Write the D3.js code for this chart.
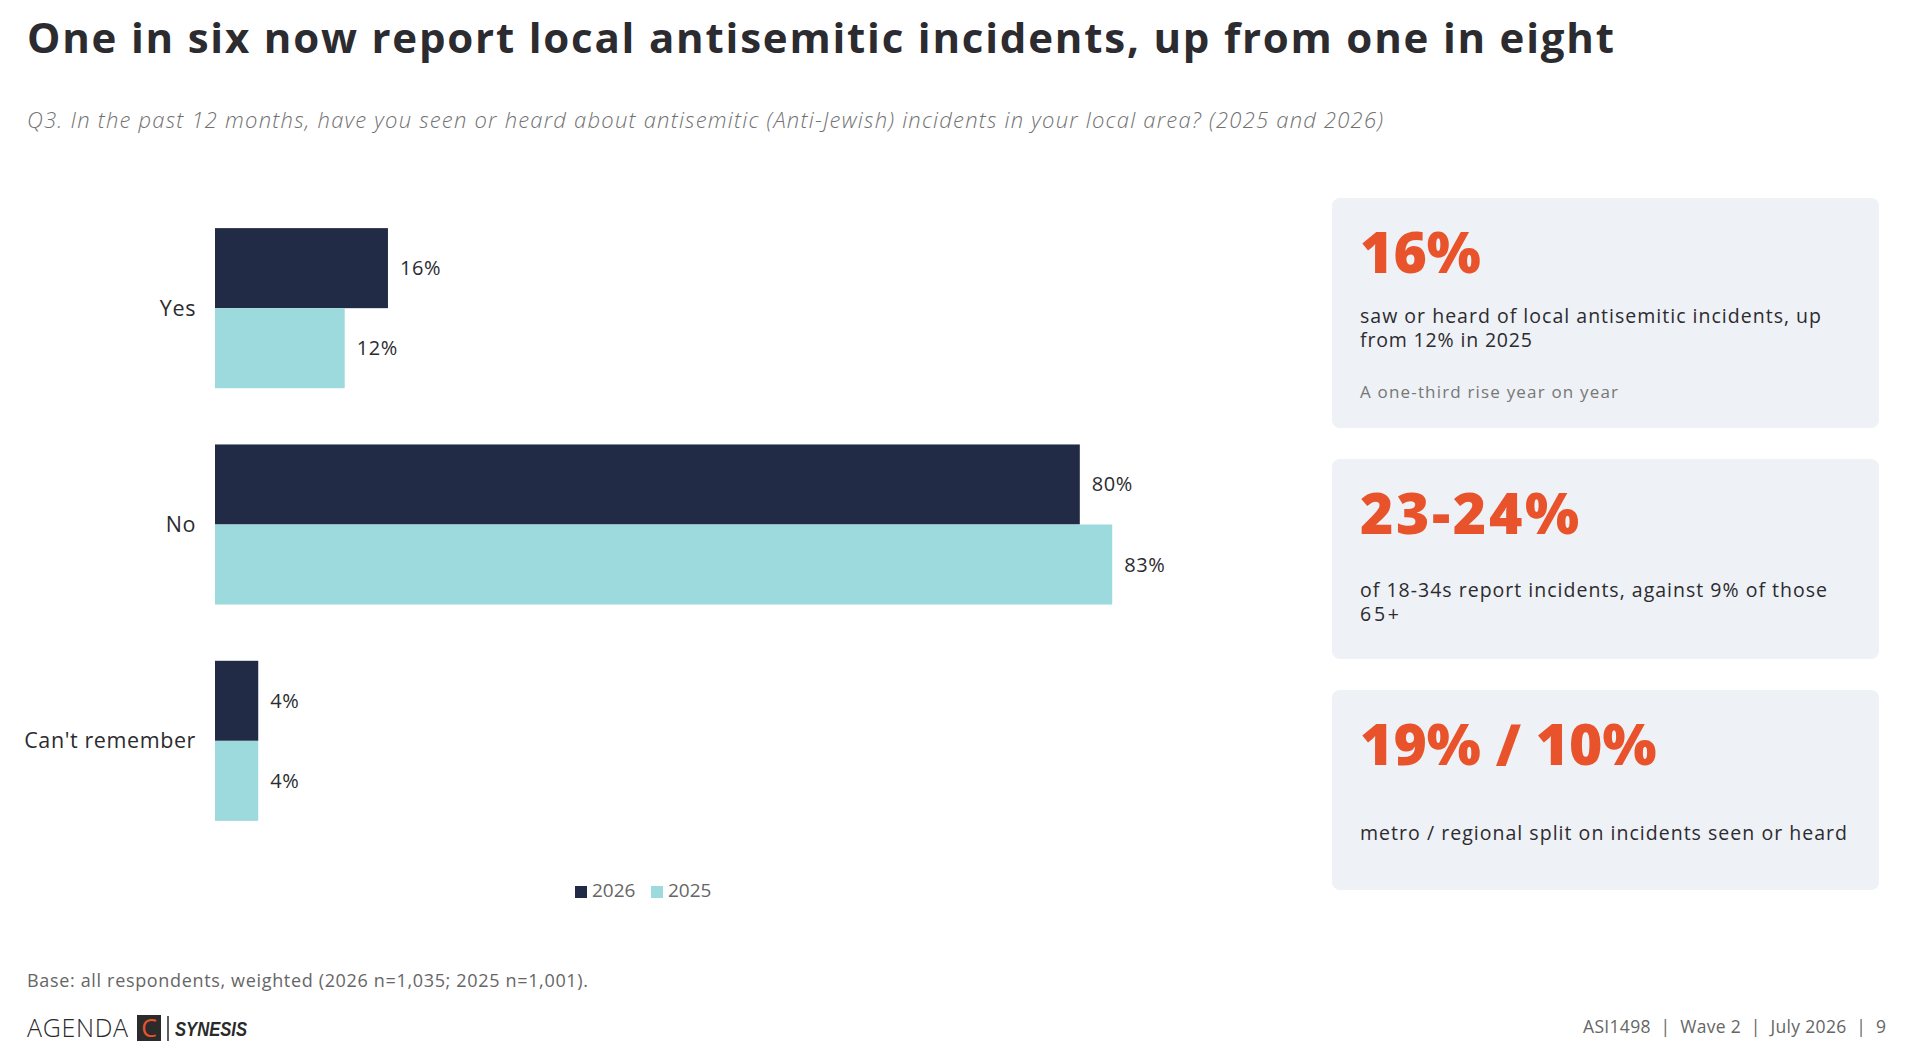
<!DOCTYPE html>
<html>
<head>
<meta charset="utf-8">
<script src="https://cdn.jsdelivr.net/npm/d3@7"></script>
<style>
  body { margin: 0; background: #fff; }
  svg text { font-family: "Open Sans", "Noto Sans", sans-serif; }
</style>
</head>
<body>
<div id="container"></div>
<script>
// Q3 local antisemitic incidents, 2026 vs 2025

const width = 1906;
const height = 1060;

const categories = ["Yes", "No", "Can't remember"];
const seriesNames = ["2026", "2025"];
const values2026 = [16, 80, 4];
const values2025 = [12, 83, 4];

const statHeadlines = ["16%", "23-24%", "19% / 10%"];
const statLines = [
    ["saw or heard of local antisemitic incidents, up", "from 12% in 2025"],
    ["of 18-34s report incidents, against 9% of those", "65+"],
    ["metro / regional split on incidents seen or heard"]
];
const statNotes = ["A one-third rise year on year", "", ""];

const titleText = "One in six now report local antisemitic incidents, up from one in eight";
const subtitleText = "Q3. In the past 12 months, have you seen or heard about antisemitic (Anti-Jewish) incidents in your local area? (2025 and 2026)";
const baseText = "Base: all respondents, weighted (2026 n=1,035; 2025 n=1,001).";
const footerText = "ASI1498  |  Wave 2  |  July 2026  |  9";

const navy = "#212b45";
const cyan = "#9ddadd";
const orange = "#e8532b";
const ink = "#2b2b30";

// the original face (Gotham) runs wider than Open Sans, so widen spacing to the same line lengths
// (only ever widen - squeezing makes glyphs collide)
function fit(sel, w) {
    const natural = sel.node().getComputedTextLength();
    if (natural < w) sel.attr("textLength", w).attr("lengthAdjust", "spacing");
    return sel;
}

const svg = d3.select("#container")
    .append("svg")
    .attr("width", width)
    .attr("height", height)
    .style("background-color", "white");

// header
fit(svg.append("text")
    .attr("x", 27)
    .attr("y", 53)
    .attr("fill", ink)
    .style("font-size", "42px")
    .style("font-weight", 700)
    .text(titleText), 1587);

fit(svg.append("text")
    .attr("x", 27)
    .attr("y", 128)
    .attr("fill", "#727272")
    .style("font-size", "22px")
    .style("font-style", "italic")
    .style("font-weight", 300)
    .text(subtitleText), 1356);

// bars
const x = d3.scaleLinear()
    .domain([0, 100])
    .range([215, 1296]);

const y = d3.scaleBand()
    .domain(categories)
    .range([200, 849])
    .paddingInner(0.26)
    .paddingOuter(0.13);

const ySub = d3.scaleBand()
    .domain(seriesNames)
    .range([0, y.bandwidth()]);

const color = d3.scaleOrdinal()
    .domain(seriesNames)
    .range([navy, cyan]);

const rows = categories.map((c, i) => ({
    category: c,
    values: [
        { series: "2026", value: values2026[i] },
        { series: "2025", value: values2025[i] }
    ]
}));

const groups = svg.append("g")
    .selectAll("g")
    .data(rows)
    .join("g")
    .attr("transform", d => `translate(0,${y(d.category)})`);

groups.selectAll("rect")
    .data(d => d.values)
    .join("rect")
    .attr("x", x(0))
    .attr("y", d => ySub(d.series))
    .attr("width", d => x(d.value) - x(0))
    .attr("height", ySub.bandwidth())
    .attr("fill", d => color(d.series));

groups.selectAll("text.val")
    .data(d => d.values)
    .join("text")
    .attr("class", "val")
    .attr("x", d => x(d.value) + 12)
    .attr("y", d => ySub(d.series) + ySub.bandwidth() / 2)
    .attr("dy", "0.35em")
    .attr("fill", ink)
    .style("font-size", "20px")
    .style("letter-spacing", "0.6px")
    .text(d => d.value + "%");

groups.append("text")
    .attr("x", 196)
    .attr("y", y.bandwidth() / 2)
    .attr("dy", "0.35em")
    .attr("text-anchor", "end")
    .attr("fill", ink)
    .style("font-size", "21.5px")
    .style("letter-spacing", "0.6px")
    .text(d => d.category);

// legend
const legend = svg.append("g")
    .attr("transform", "translate(575, 886)");

seriesNames.forEach((s, i) => {
    const g = legend.append("g")
        .attr("transform", `translate(${i * 76}, 0)`);
    g.append("rect")
        .attr("width", 12)
        .attr("height", 12)
        .attr("fill", color(s));
    g.append("text")
        .attr("x", 17)
        .attr("y", 11)
        .attr("fill", "#666")
        .style("font-size", "19px")
        .text(s);
});

// stat panels on the right
const panelTop = [198, 459, 690];
const panelHeight = [230, 200, 200];
const bodyOffset = [125, 138, 150];
const headWidth = [111, 219, 292];
const lineWidth = [[461, 172], [467, 39], [487]];

statHeadlines.forEach((h, i) => {
    const p = svg.append("g")
        .attr("transform", `translate(1332, ${panelTop[i]})`);
    p.append("rect")
        .attr("width", 547)
        .attr("height", panelHeight[i])
        .attr("rx", 8)
        .attr("fill", "#eef1f5");
    fit(p.append("text")
        .attr("x", 28)
        .attr("y", 75)
        .attr("fill", orange)
        .style("font-size", "57px")
        .style("font-weight", 800)
        .text(h), headWidth[i]);
    statLines[i].forEach((line, j) => {
        fit(p.append("text")
            .attr("x", 28)
            .attr("y", bodyOffset[i] + j * 24)
            .attr("fill", ink)
            .style("font-size", "19.5px")
            .text(line), lineWidth[i][j]);
    });
    if (statNotes[i]) {
        fit(p.append("text")
            .attr("x", 28)
            .attr("y", 200)
            .attr("fill", "#777")
            .style("font-size", "17px")
            .text(statNotes[i]), 258);
    }
});

// footer
fit(svg.append("text")
    .attr("x", 27)
    .attr("y", 987)
    .attr("fill", "#666")
    .style("font-size", "18px")
    .text(baseText), 561);

const logo = svg.append("g");
fit(logo.append("text")
    .attr("x", 27)
    .attr("y", 1037)
    .attr("fill", "#2a2a2a")
    .style("font-size", "25px")
    .style("font-weight", 300)
    .text("AGENDA"), 101);
logo.append("rect")
    .attr("x", 137)
    .attr("y", 1015)
    .attr("width", 24)
    .attr("height", 26)
    .attr("fill", "#2b2b2b");
logo.append("text")
    .attr("x", 149)
    .attr("y", 1037)
    .attr("text-anchor", "middle")
    .attr("fill", orange)
    .style("font-size", "25px")
    .style("font-weight", 400)
    .text("C");
logo.append("line")
    .attr("x1", 168)
    .attr("x2", 168)
    .attr("y1", 1016)
    .attr("y2", 1041)
    .attr("stroke", "#2a2a2a")
    .attr("stroke-width", 1.5);
logo.append("text")
    .attr("x", 175)
    .attr("y", 1036)
    .attr("fill", "#2a2a2a")
    .attr("textLength", 72)
    .attr("lengthAdjust", "spacingAndGlyphs")
    .style("font-family", "'Liberation Sans', sans-serif")
    .style("font-size", "21px")
    .style("font-weight", 700)
    .style("font-style", "italic")
    .text("SYNESIS");

fit(svg.append("text")
    .attr("x", 1886)
    .attr("y", 1033)
    .attr("text-anchor", "end")
    .attr("fill", "#666")
    .style("font-size", "17.5px")
    .style("white-space", "pre")
    .text(footerText), 303);
</script>
</body>
</html>
